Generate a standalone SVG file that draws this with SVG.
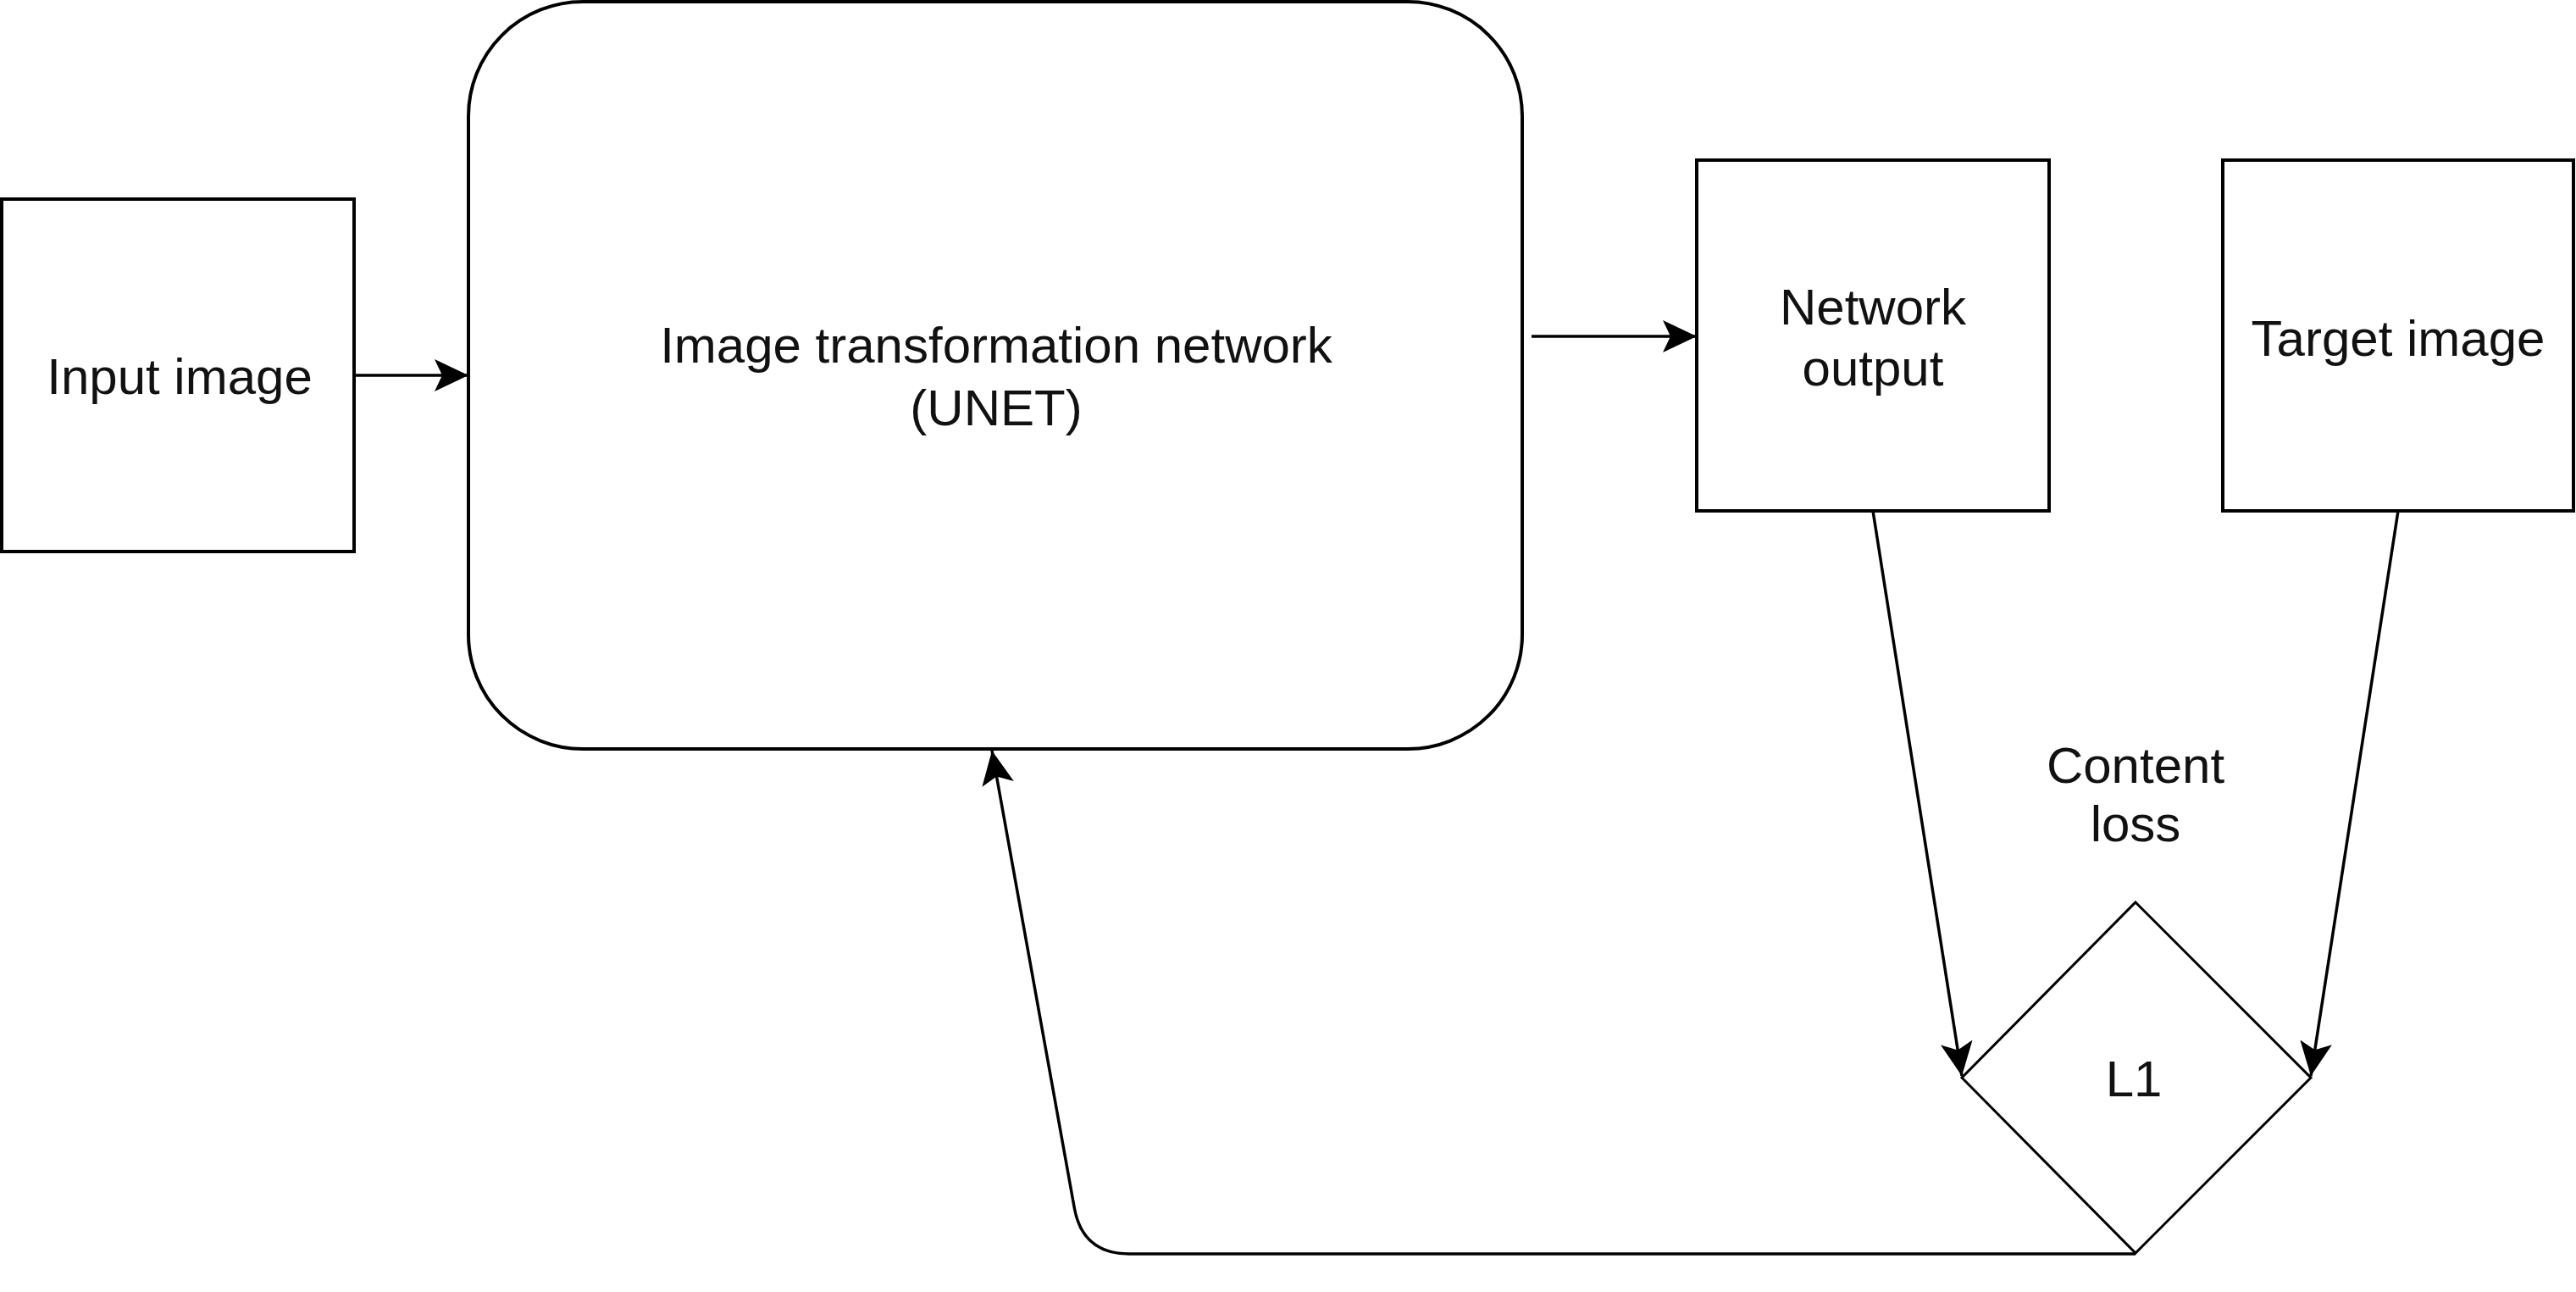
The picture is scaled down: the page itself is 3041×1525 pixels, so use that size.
<svg xmlns="http://www.w3.org/2000/svg" width="3041" height="1525" viewBox="0 0 3041 1525">
<defs>
<marker id="arr" markerUnits="userSpaceOnUse" viewBox="0 0 40 40" markerWidth="40" markerHeight="40" refX="40" refY="20" orient="auto">
<path d="M0,1 L40,20 L0,39 L9,20 Z" fill="#000"/>
</marker>
<style>
.box{fill:#fff;stroke:#000;stroke-width:4}
.dia{fill:#fff;stroke:#000;stroke-width:3}
.edge{fill:none;stroke:#000;stroke-width:3.5}
.lbl{font-family:"Liberation Sans",Arial,Helvetica,sans-serif;font-size:60px;fill:#111;text-anchor:middle}
</style>
</defs>
<rect width="3041" height="1525" fill="#fff"/>
<g id="input-image">
<rect class="box" x="2" y="235" width="416" height="416"/>
<text class="lbl" x="212" y="465">Input image</text>
</g>
<g id="unet">
<rect class="box" x="553" y="2" width="1244" height="882" rx="135" ry="135"/>
<text class="lbl" x="1176" y="428">Image transformation network</text>
<text class="lbl" x="1176" y="502">(UNET)</text>
</g>
<g id="network-output">
<rect class="box" x="2003" y="189" width="416" height="414"/>
<text class="lbl" x="2211" y="383">Network</text>
<text class="lbl" x="2211" y="455">output</text>
</g>
<g id="target-image">
<rect class="box" x="2624" y="189" width="414" height="414"/>
<text class="lbl" x="2831" y="420">Target image</text>
</g>
<g id="l1">
<polygon class="dia" points="2521,1065 2728,1272 2521,1479 2316,1272"/>
<text class="lbl" x="2519" y="1294">L1</text>
</g>
<g id="content-loss-label">
<text class="lbl" x="2521" y="924">Content</text>
<text class="lbl" x="2521" y="993">loss</text>
</g>
<g id="connectors">
<path class="edge" d="M418 443 L553 443" marker-end="url(#arr)"/>
<path class="edge" d="M1808 397 L2003 397" marker-end="url(#arr)"/>
<path class="edge" d="M2211 603 L2316 1270" marker-end="url(#arr)"/>
<path class="edge" d="M2831 603 L2728 1270" marker-end="url(#arr)"/>
<path class="edge" d="M2521 1480 L1333 1480 Q1278 1480 1268.3 1425.8 L1171 886" marker-end="url(#arr)"/>
</g>
</svg>
